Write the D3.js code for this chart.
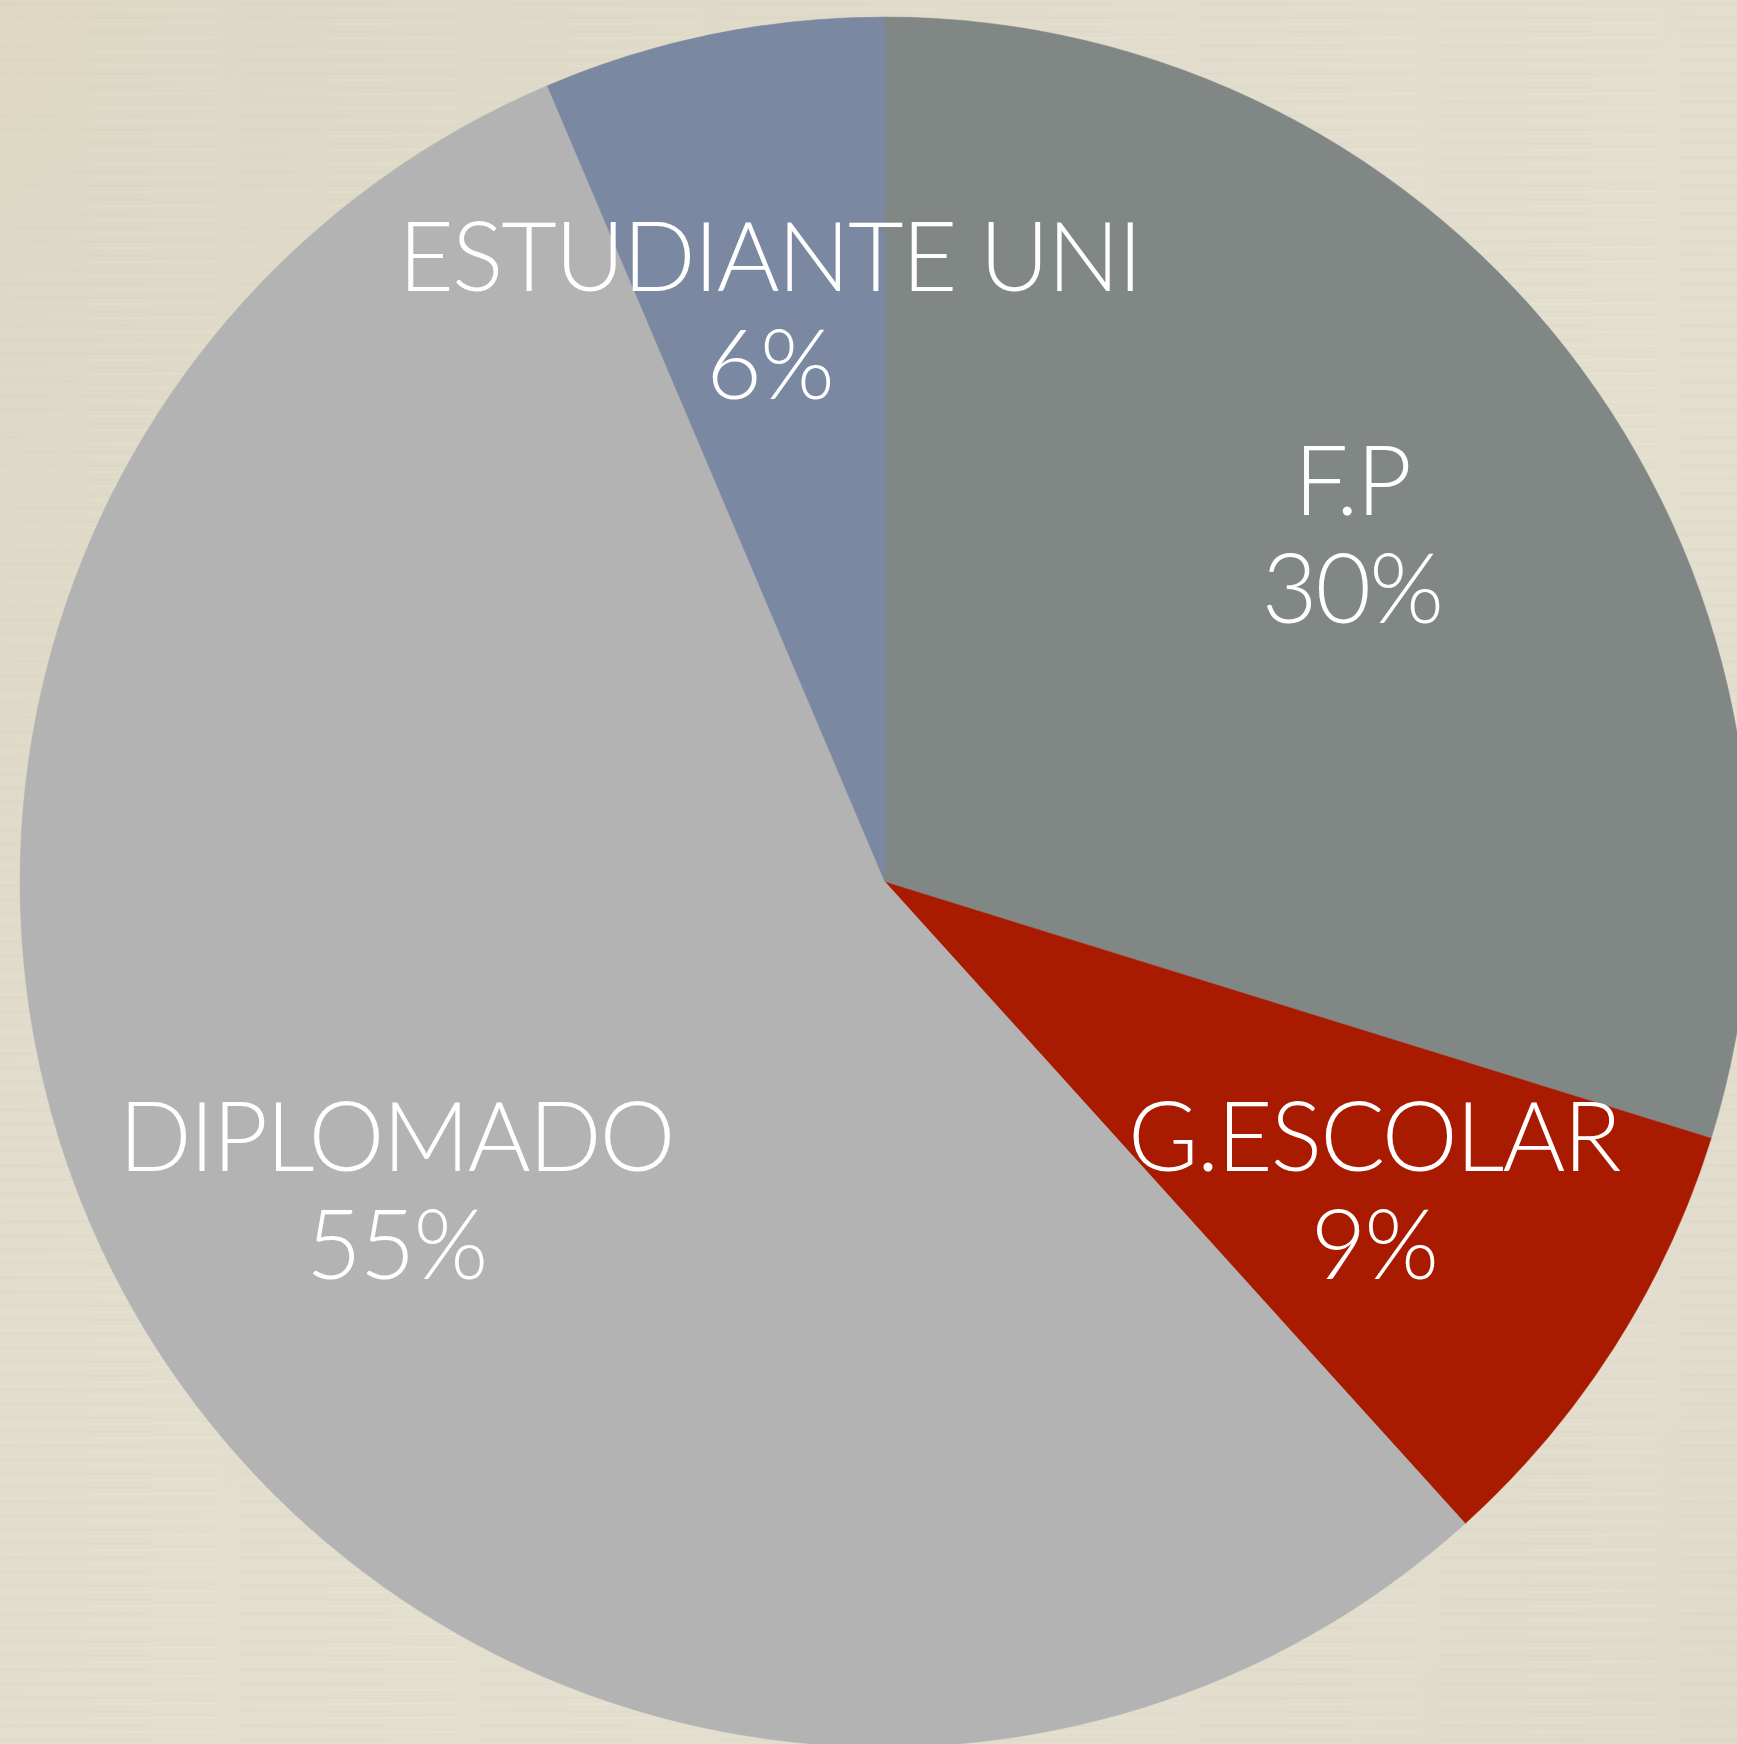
<!DOCTYPE html>
<html>
<head>
<meta charset="utf-8">
<script src="https://cdn.jsdelivr.net/npm/d3@7"></script>
<style>
  html, body { margin: 0; padding: 0; background: #e2ddcc; overflow: hidden; }
  svg { display: block; }
</style>
</head>
<body>
<svg id="chart"></svg>
<script>
// chart data
const categories = ["F.P", "G.ESCOLAR", "DIPLOMADO", "ESTUDIANTE UNI"];
const counts = [14, 4, 26, 3];
const colors = ["#818784", "#a91b00", "#b3b3b3", "#7a88a1"];

const width = 1737, height = 1744;
const cx = 885, cy = 882;
const radius = 865;
const labelRadius = 580;

const svg = d3.select("#chart")
    .attr("width", width)
    .attr("height", height);

// paper-like background with faint horizontal streaks
const defs = svg.append("defs");
const pattern = defs.append("pattern")
    .attr("id", "paper")
    .attr("width", 240).attr("height", 14)
    .attr("patternUnits", "userSpaceOnUse");
pattern.append("rect").attr("width", 240).attr("height", 14).attr("fill", "#e2ddcc");
pattern.append("rect").attr("x", 0).attr("y", 3).attr("width", 150).attr("height", 1.5)
    .attr("fill", "#d9d3c0").attr("opacity", 0.6);
pattern.append("rect").attr("x", 90).attr("y", 9).attr("width", 130).attr("height", 1.5)
    .attr("fill", "#ebe8db").attr("opacity", 0.7);

const bgGrad = defs.append("linearGradient")
    .attr("id", "bg-shade")
    .attr("x1", "0%").attr("y1", "0%")
    .attr("x2", "100%").attr("y2", "100%");
bgGrad.append("stop").attr("offset", "0%").attr("stop-color", "#d8d1bc").attr("stop-opacity", 0.5);
bgGrad.append("stop").attr("offset", "60%").attr("stop-color", "#e6e3d5").attr("stop-opacity", 0.3);
bgGrad.append("stop").attr("offset", "100%").attr("stop-color", "#ddd7c4").attr("stop-opacity", 0.4);

svg.append("rect").attr("width", width).attr("height", height).attr("fill", "url(#paper)");
svg.append("rect").attr("width", width).attr("height", height).attr("fill", "url(#bg-shade)");

const total = d3.sum(counts);
const data = categories.map((c, i) => ({ name: c, value: counts[i], color: colors[i] }));

const pie = d3.pie()
    .value(d => d.value)
    .sort(null);

const arc = d3.arc()
    .innerRadius(0)
    .outerRadius(radius);

const labelArc = d3.arc()
    .innerRadius(labelRadius)
    .outerRadius(labelRadius);

const g = svg.append("g")
    .attr("transform", `translate(${cx},${cy})`);

const arcs = pie(data);

g.selectAll("path.slice")
    .data(arcs)
    .enter().append("path")
    .attr("class", "slice")
    .attr("d", arc)
    .attr("fill", d => d.data.color)
    .attr("stroke", d => d.data.color)
    .attr("stroke-width", 0.5);

// labels: name + rounded percent, two lines
const labels = g.selectAll("g.label")
    .data(arcs)
    .enter().append("g")
    .attr("class", "label")
    .attr("transform", d => {
        const [x, y] = labelArc.centroid(d);
        return `translate(${x},${y})`;
    });

const fontStyle = sel => sel
    .attr("text-anchor", "middle")
    .attr("fill", "#ffffff")
    .attr("font-family", "Lato, 'Open Sans', sans-serif")
    .attr("font-weight", 300)
    .attr("font-size", 96)
    .attr("letter-spacing", -2);

labels.append("text")
    .call(fontStyle)
    .attr("y", -23)
    .text(d => d.data.name);

labels.append("text")
    .call(fontStyle)
    .attr("y", 85)
    .text(d => `${Math.round(d.data.value / total * 100)}%`);
</script>
</body>
</html>
